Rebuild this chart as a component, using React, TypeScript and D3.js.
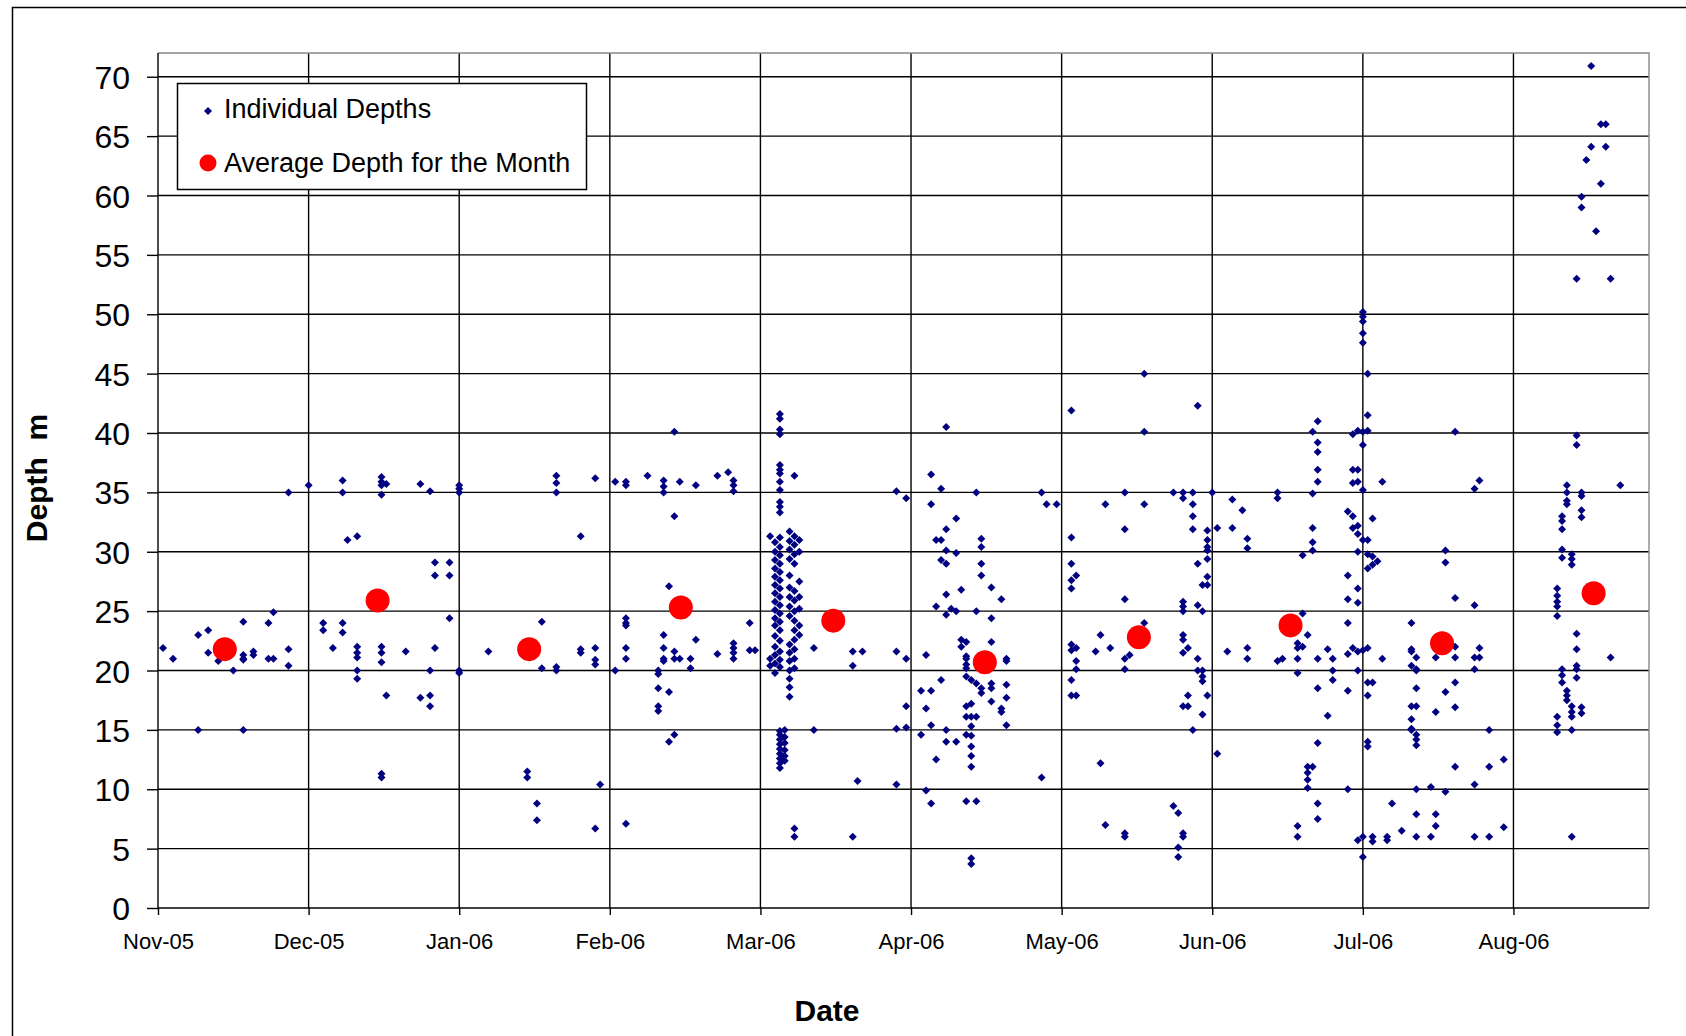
import React, { useRef, useEffect } from 'react';
import * as d3 from 'd3';

const monthLabels = ['Nov-05', 'Dec-05', 'Jan-06', 'Feb-06', 'Mar-06', 'Apr-06', 'May-06', 'Jun-06', 'Jul-06', 'Aug-06'];
const monthLengths = [30, 31, 31, 28, 31, 30, 31, 30, 31, 31];
const depthTicks = [0, 5, 10, 15, 20, 25, 30, 35, 40, 45, 50, 55, 60, 65, 70];

// [day of month, depth in m]
const nov05 = [
  [2, 21.9], [4, 21.0], [9, 23.0], [9, 15.0], [11, 23.4], [11, 21.5], [13, 20.8], [16, 20.0],
  [18, 24.1], [18, 21.3], [18, 20.9], [18, 21.0], [18, 15.0], [20, 21.6], [20, 21.3], [23, 24.0],
  [23, 21.0], [24, 24.9], [24, 21.0], [27, 21.8], [27, 20.4], [27, 35.0],
];
const dec05 = [
  [1, 35.6], [4, 24.0], [4, 23.4], [6, 21.9], [8, 36.0], [8, 35.0], [8, 24.0], [8, 23.2], [9, 31.0],
  [11, 31.3], [11, 22.0], [11, 21.5], [11, 21.1], [11, 20.0], [11, 19.3], [16, 36.3], [16, 35.9],
  [16, 35.6], [16, 34.8], [16, 22.0], [16, 21.5], [16, 20.7], [16, 11.3], [16, 11.0], [17, 35.7],
  [17, 17.9], [21, 21.6], [24, 35.7], [24, 17.7], [26, 35.1], [26, 20.0], [26, 17.9], [26, 17.0],
  [27, 21.9], [27, 29.1], [27, 28.0], [30, 29.1], [30, 28.0], [30, 24.4],
];
const jan06 = [
  [1, 35.6], [1, 35.3], [1, 35.0], [1, 20.0], [1, 19.8], [7, 21.6], [15, 11.5], [15, 11.0], [17, 8.8],
  [17, 7.4], [18, 24.1], [18, 20.2], [21, 36.4], [21, 35.8], [21, 35.0], [21, 20.3], [21, 20.0],
  [26, 31.3], [26, 21.8], [26, 21.5], [29, 36.2], [29, 21.9], [29, 20.9], [29, 20.5], [29, 6.7], [30, 10.4],
];
const feb06 = [
  [2, 35.9], [2, 20.0], [4, 35.9], [4, 35.6], [4, 24.4], [4, 24.0], [4, 23.8], [4, 21.9], [4, 21.0],
  [4, 7.1], [8, 36.4], [10, 20.0], [10, 19.7], [10, 18.5], [10, 17.0], [10, 16.6], [11, 36.0],
  [11, 35.5], [11, 35.0], [11, 23.0], [11, 21.9], [11, 21.0], [11, 20.8], [12, 27.1], [12, 18.2],
  [12, 14.0], [13, 40.1], [13, 33.0], [13, 21.6], [13, 21.0], [13, 14.6], [14, 35.9], [14, 21.0],
  [16, 21.0], [16, 20.2], [17, 35.6], [17, 22.6], [21, 36.4], [21, 21.4], [23, 36.7], [24, 36.0],
  [24, 35.6], [24, 35.1], [24, 22.3], [24, 21.9], [24, 21.5], [24, 21.0], [27, 24.0], [27, 21.7], [28, 21.7],
];
const mar06 = [
  [3, 31.3], [3, 21.0], [3, 20.4],
  [4, 30.8], [4, 30.0], [4, 29.3], [4, 28.6], [4, 27.9], [4, 27.2], [4, 26.5], [4, 25.8], [4, 25.1],
  [4, 24.4], [4, 23.8], [4, 22.9], [4, 22.0], [4, 21.3], [4, 20.6], [4, 19.8],
  [5, 31.2], [5, 30.4], [5, 29.7], [5, 29.0], [5, 28.3], [5, 27.6], [5, 26.9], [5, 26.2], [5, 25.5],
  [5, 24.8], [5, 24.1], [5, 23.4], [5, 22.5], [5, 21.6], [5, 20.9], [5, 20.3],
  [5, 41.6], [5, 41.2], [5, 40.3], [5, 39.9], [5, 37.3], [5, 36.9], [5, 36.6], [5, 35.9], [5, 35.2],
  [5, 34.2], [5, 33.8], [5, 33.3], [5, 14.9], [5, 14.6], [5, 14.2], [5, 13.8], [5, 13.4], [5, 13.0],
  [5, 12.6], [5, 12.2], [5, 11.8],
  [6, 15.0], [6, 14.4], [6, 13.9], [6, 13.3], [6, 12.8], [6, 12.4],
  [7, 31.7], [7, 30.9], [7, 30.2], [7, 29.4], [7, 28.0], [7, 27.0], [7, 26.2], [7, 25.4], [7, 24.6],
  [7, 22.2], [7, 21.5], [7, 20.8], [7, 20.0], [7, 19.3], [7, 18.6], [7, 17.8],
  [8, 31.3], [8, 30.6], [8, 29.8], [8, 29.0], [8, 26.7], [8, 25.9], [8, 25.0], [8, 24.2], [8, 23.4],
  [8, 22.6], [8, 21.8], [8, 21.0], [8, 20.2], [8, 36.4], [8, 6.7], [8, 6.0],
  [9, 31.0], [9, 30.0], [9, 27.5], [9, 26.2], [9, 25.2], [9, 23.8], [9, 23.0],
  [12, 21.9], [12, 15.0], [20, 21.6], [20, 20.4], [20, 6.0], [21, 10.7], [22, 21.6],
  [29, 35.1], [29, 21.6], [29, 15.1], [29, 10.4], [31, 34.5], [31, 21.0], [31, 17.0], [31, 15.2],
];
const apr06 = [
  [3, 18.3], [3, 14.6], [4, 21.3], [4, 16.8], [4, 9.9], [5, 36.5], [5, 34.0], [5, 18.3], [5, 15.4],
  [5, 8.8], [6, 31.0], [6, 25.4], [6, 12.5], [7, 35.3], [7, 31.0], [7, 29.3], [7, 19.2], [8, 40.5],
  [8, 31.9], [8, 30.1], [8, 29.0], [8, 26.4], [8, 24.7], [8, 15.0], [8, 14.0], [9, 25.2], [10, 32.8],
  [10, 29.9], [10, 25.0], [10, 14.0], [11, 26.8], [11, 22.6], [11, 22.0], [12, 22.4], [12, 21.2],
  [12, 21.0], [12, 20.5], [12, 20.2], [12, 19.5], [12, 17.0], [12, 16.1], [12, 14.6], [12, 9.0],
  [13, 19.2], [13, 17.2], [13, 16.1], [13, 15.3], [13, 14.5], [13, 13.6], [13, 12.8], [13, 11.9],
  [13, 4.2], [13, 3.7], [14, 35.0], [14, 25.0], [14, 18.9], [14, 16.1], [14, 9.0], [15, 31.1],
  [15, 30.4], [15, 29.0], [15, 28.0], [15, 18.5], [15, 18.1], [17, 27.0], [17, 24.4], [17, 22.4],
  [17, 18.9], [17, 18.5], [17, 17.4], [19, 26.0], [19, 16.8], [19, 16.5], [20, 21.0], [20, 20.8],
  [20, 18.8], [20, 17.7], [20, 15.4], [27, 35.0], [27, 11.0], [28, 34.0], [30, 34.0],
];
const may06 = [
  [3, 41.9], [3, 31.2], [3, 29.0], [3, 27.6], [3, 26.9], [3, 22.2], [3, 21.7], [3, 19.2], [3, 17.9],
  [4, 28.0], [4, 21.9], [4, 20.8], [4, 20.1], [4, 17.9], [8, 21.6], [9, 23.0], [9, 12.2], [10, 34.0],
  [10, 7.0], [11, 21.9], [14, 35.0], [14, 31.9], [14, 26.0], [14, 21.0], [14, 20.1], [14, 6.3],
  [14, 6.0], [15, 21.3], [18, 45.0], [18, 40.1], [18, 34.0], [18, 24.0], [24, 35.0], [24, 8.6],
  [25, 8.0], [25, 5.1], [25, 4.3], [26, 35.0], [26, 34.5], [26, 25.8], [26, 25.4], [26, 25.0],
  [26, 23.0], [26, 22.6], [26, 21.5], [26, 17.0], [26, 6.3], [26, 6.0], [27, 21.9], [27, 17.9],
  [27, 17.0], [28, 35.0], [28, 34.0], [28, 33.0], [28, 31.9], [28, 15.0], [29, 42.3], [29, 29.0],
  [29, 25.5], [29, 21.0], [29, 20.0], [30, 27.2], [30, 25.0], [30, 20.0], [30, 19.5], [30, 19.1],
  [30, 16.3], [31, 31.8], [31, 31.0], [31, 30.4], [31, 30.1], [31, 29.4], [31, 27.9], [31, 27.2], [31, 17.9],
];
const jun06 = [
  [1, 35.0], [2, 32.0], [2, 13.0], [4, 21.6], [5, 34.4], [5, 32.0], [7, 33.5], [8, 31.1], [8, 30.3],
  [8, 21.9], [8, 21.0], [14, 35.0], [14, 34.5], [14, 20.8], [15, 21.0], [18, 22.3], [18, 21.9],
  [18, 21.0], [18, 19.8], [18, 6.9], [18, 6.0], [19, 29.7], [19, 24.8], [19, 22.0], [20, 23.0],
  [20, 11.9], [20, 11.4], [20, 10.8], [20, 10.1], [21, 40.1], [21, 34.9], [21, 32.0], [21, 30.8],
  [21, 30.1], [21, 11.9], [22, 41.0], [22, 39.2], [22, 38.4], [22, 36.9], [22, 35.9], [22, 21.0],
  [22, 18.5], [22, 13.9], [22, 8.8], [22, 7.5], [24, 21.8], [24, 16.2], [25, 21.0], [25, 20.0],
  [25, 19.2], [28, 21.4], [28, 18.3], [28, 33.4], [28, 28.0], [28, 26.0], [28, 10.0], [28, 24.0],
  [29, 39.9], [29, 36.9], [29, 35.8], [29, 33.0], [29, 32.0], [29, 21.9], [30, 40.2], [30, 36.9],
  [30, 35.9], [30, 32.2], [30, 31.5], [30, 30.0], [30, 26.9], [30, 25.7], [30, 21.6], [30, 20.0], [30, 5.7],
];
const jul06 = [
  [1, 50.2], [1, 49.8], [1, 49.4], [1, 48.4], [1, 47.6], [1, 40.1], [1, 39.0], [1, 35.2], [1, 31.0],
  [1, 21.7], [1, 6.0], [1, 4.3], [2, 45.0], [2, 41.5], [2, 40.2], [2, 31.0], [2, 29.8], [2, 28.6],
  [2, 21.9], [2, 19.0], [2, 17.9], [2, 14.0], [2, 13.6], [3, 32.8], [3, 29.6], [3, 28.9], [3, 19.0],
  [3, 6.0], [3, 5.6], [4, 29.2], [5, 35.9], [5, 21.0], [6, 6.0], [6, 5.7], [7, 8.8], [9, 6.5],
  [11, 24.0], [11, 21.8], [11, 21.6], [11, 20.4], [11, 17.0], [11, 15.9], [11, 15.1], [11, 15.0],
  [12, 21.1], [12, 20.1], [12, 20.0], [12, 18.5], [12, 17.0], [12, 14.6], [12, 14.2], [12, 13.7],
  [12, 10.0], [12, 7.9], [12, 6.0], [15, 10.2], [15, 6.0], [16, 21.1], [16, 16.5], [16, 7.9],
  [16, 6.9], [18, 30.1], [18, 29.1], [18, 18.2], [18, 9.8], [20, 40.1], [20, 26.1], [20, 22.0],
  [20, 21.1], [20, 19.0], [20, 16.9], [20, 11.9], [24, 35.3], [24, 25.5], [24, 21.1], [24, 20.1],
  [24, 10.4], [24, 6.0], [25, 36.0], [25, 21.9], [25, 21.1], [27, 15.0], [27, 11.9], [27, 6.0],
  [30, 12.5], [30, 6.8],
];
const aug06 = [
  [10, 26.9], [10, 26.3], [10, 25.8], [10, 25.4], [10, 24.6], [10, 16.1], [10, 15.4], [10, 14.8],
  [11, 33.0], [11, 32.6], [11, 31.9], [11, 30.2], [11, 29.5], [11, 20.1], [11, 19.6], [11, 19.0],
  [12, 35.6], [12, 35.0], [12, 34.3], [12, 34.0], [12, 18.3], [12, 17.9], [12, 17.5], [13, 29.8],
  [13, 29.4], [13, 28.9], [13, 17.0], [13, 16.5], [13, 16.1], [13, 15.0], [13, 6.0], [14, 53.0],
  [14, 39.8], [14, 39.0], [14, 23.1], [14, 21.8], [14, 20.4], [14, 20.1], [14, 19.4], [15, 59.9],
  [15, 59.0], [15, 35.0], [15, 34.7], [15, 33.5], [15, 32.9], [15, 16.9], [15, 16.4], [16, 63.0],
  [17, 70.9], [17, 64.1], [18, 57.0], [19, 66.0], [19, 61.0], [20, 66.0], [20, 64.1], [21, 53.0],
  [21, 21.1], [23, 35.6],
];
const individualDepths = [nov05, dec05, jan06, feb06, mar06, apr06, may06, jun06, jul06, aug06];

// [day of month, average depth], one per month
const monthlyAverage = [
  [14.3, 21.8], [15.2, 25.9], [15.4, 21.8], [14.2, 25.3], [16.0, 24.2],
  [15.7, 20.7], [16.9, 22.8], [16.6, 23.8], [17.3, 22.3], [17.5, 26.5],
];

const App = () => {
  const svgRef = useRef<SVGSVGElement>(null);

  useEffect(() => {
    const width = 1686;
    const height = 1036;
    const plot = { left: 158, right: 1649, top: 53, bottom: 908 };
    const font = '"Liberation Sans", Arial, sans-serif';

    const svg = d3.select(svgRef.current);
    svg.selectAll('*').remove();

    const xScale = d3.scaleLinear().domain([0, 9.9]).range([plot.left, plot.right]);
    const yScale = d3.scaleLinear().domain([0, 72]).range([plot.bottom, plot.top]);
    const dateX = (month: number, day: number) => xScale(month + (day - 1) / monthLengths[month]);

    svg.append('rect').attr('width', width).attr('height', height).attr('fill', '#fff');
    svg.append('rect')
      .attr('x', 12.5).attr('y', 7.5)
      .attr('width', 1800).attr('height', 1200)
      .attr('fill', 'none').attr('stroke', '#000').attr('stroke-width', 1.5);

    // grid
    svg.append('g').selectAll('line')
      .data(depthTicks.filter(d => d > 0))
      .enter().append('line')
      .attr('x1', plot.left).attr('x2', plot.right)
      .attr('y1', d => yScale(d)).attr('y2', d => yScale(d))
      .attr('stroke', '#000').attr('stroke-width', 1.4);

    svg.append('g').selectAll('line')
      .data(monthLabels.map((_, i) => i).filter(i => i > 0))
      .enter().append('line')
      .attr('x1', d => xScale(d)).attr('x2', d => xScale(d))
      .attr('y1', plot.top).attr('y2', plot.bottom)
      .attr('stroke', '#000').attr('stroke-width', 1.4);

    svg.append('path')
      .attr('d', `M${plot.left},${plot.top}H${plot.right}V${plot.bottom}`)
      .attr('fill', 'none').attr('stroke', '#888').attr('stroke-width', 1.4);

    const yAxis = svg.append('g')
      .attr('transform', `translate(${plot.left},0)`)
      .call(d3.axisLeft(yScale).tickValues(depthTicks).tickSize(11).tickSizeOuter(0).tickPadding(17));
    yAxis.attr('font-family', font).attr('font-size', 32);
    yAxis.selectAll('.tick text').attr('dy', '0.36em');

    const xAxis = svg.append('g')
      .attr('transform', `translate(0,${plot.bottom})`)
      .call(d3.axisBottom(xScale)
        .tickValues(monthLabels.map((_, i) => i))
        .tickFormat(i => monthLabels[i as number])
        .tickSize(7).tickSizeOuter(0).tickPadding(18));
    xAxis.attr('font-family', font).attr('font-size', 22);

    [xAxis, yAxis].forEach(axis => {
      axis.selectAll('.domain, .tick line').attr('stroke', '#000').attr('stroke-width', 1.4);
      axis.selectAll('.tick text').attr('fill', '#000');
    });
    xAxis.select('.domain').attr('d', `M${plot.left},0H${plot.right}`);
    yAxis.select('.domain').attr('d', `M0,${plot.top}V${plot.bottom}`);

    // axis titles
    svg.append('text')
      .attr('x', 827).attr('y', 1021)
      .attr('text-anchor', 'middle')
      .attr('font-family', font).attr('font-size', 30).attr('font-weight', 'bold')
      .text('Date');
    svg.append('text')
      .attr('transform', 'translate(47,478) rotate(-90)')
      .attr('text-anchor', 'middle')
      .attr('font-family', font).attr('font-size', 30).attr('font-weight', 'bold')
      .style('white-space', 'pre')
      .text('Depth  m');

    // points
    const diamond = d3.symbol().type(d3.symbolSquare).size(32)();
    const points = individualDepths.flatMap((list, month) =>
      list.map(([day, depth]) => ({ x: dateX(month, day), y: yScale(depth) })));

    svg.append('g').selectAll('path')
      .data(points)
      .enter().append('path')
      .attr('d', diamond)
      .attr('transform', d => `translate(${d.x},${d.y}) rotate(45)`)
      .attr('fill', '#000080');

    svg.append('g').selectAll('circle')
      .data(monthlyAverage)
      .enter().append('circle')
      .attr('cx', (d, i) => dateX(i, d[0]))
      .attr('cy', d => yScale(d[1]))
      .attr('r', 12)
      .attr('fill', '#ff0000');

    // legend
    const legend = svg.append('g');
    legend.append('rect')
      .attr('x', 177.5).attr('y', 83.5).attr('width', 409).attr('height', 106)
      .attr('fill', '#fff').attr('stroke', '#000').attr('stroke-width', 1.5);
    legend.append('path')
      .attr('d', diamond)
      .attr('transform', 'translate(208,111) rotate(45)')
      .attr('fill', '#000080');
    legend.append('circle')
      .attr('cx', 208).attr('cy', 163).attr('r', 8.5)
      .attr('fill', '#ff0000');
    legend.selectAll('text.label')
      .data(['Individual Depths', 'Average Depth for the Month'])
      .enter().append('text')
      .attr('class', 'label')
      .attr('x', 224)
      .attr('y', (_, i) => 118 + i * 54)
      .attr('font-family', font).attr('font-size', 27)
      .text(d => d);
  }, []);

  return (
    <svg ref={svgRef} width={1686} height={1036}
      style={{ position: 'absolute', left: 0, top: 0 }} />
  );
};

export default App;
